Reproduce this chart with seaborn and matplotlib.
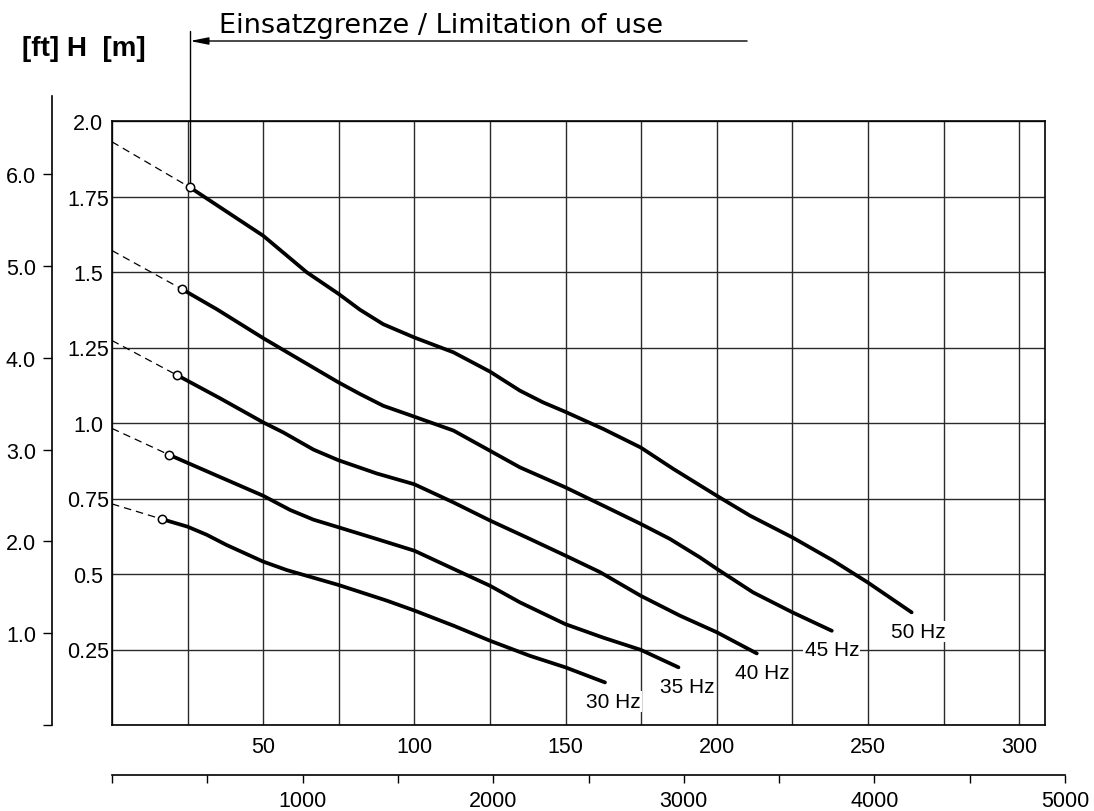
import numpy as np
import pandas as pd
import matplotlib
matplotlib.use('Agg')
import matplotlib.pyplot as plt
import seaborn as sns

# Kennlinien H(Q) je Frequenz
# Q in m3/h, H in m
freqs = ['30 Hz', '35 Hz', '40 Hz', '45 Hz', '50 Hz']

q_30 = [16.4, 24.9, 31.3, 37.9, 50, 57.8, 74.8, 90.8, 100, 112.9, 125, 138.2, 149.9, 163]
h_30 = [0.682, 0.657, 0.630, 0.596, 0.541, 0.513, 0.464, 0.412, 0.379, 0.329, 0.279, 0.229, 0.191, 0.141]

q_35 = [18.8, 34.6, 50, 58.9, 66.6, 74.8, 87.5, 100, 112.9, 125, 134.9, 149.9, 162.5, 174.8, 187.3]
h_35 = [0.895, 0.826, 0.759, 0.712, 0.680, 0.655, 0.616, 0.577, 0.517, 0.461, 0.406, 0.334, 0.289, 0.249, 0.191]

q_40 = [21.4, 35.7, 50, 56.6, 66.6, 74.8, 87.5, 100, 112.9, 125, 138.2, 149.9, 161.4, 174.8, 187.8, 200, 213.2]
h_40 = [1.159, 1.082, 1.002, 0.969, 0.912, 0.877, 0.833, 0.797, 0.737, 0.677, 0.616, 0.561, 0.506, 0.428, 0.362, 0.307, 0.237]

q_45 = [23.0, 34.6, 50, 56.1, 74.8, 82, 89.7, 97.4, 112.9, 125, 134.9, 149.9, 162.5, 174.8, 184.5, 194.4, 200, 212, 225, 238]
h_45 = [1.444, 1.377, 1.281, 1.245, 1.135, 1.096, 1.057, 1.030, 0.975, 0.908, 0.853, 0.787, 0.726, 0.666, 0.616, 0.555, 0.517, 0.439, 0.373, 0.312]

q_50 = [25.8, 50, 64.4, 75, 82, 89.7, 100, 112.9, 125, 134.9, 142.6, 149.9, 162.5, 174.8, 185.6, 200, 211, 225, 238.5, 249.9, 264.4]
h_50 = [1.78, 1.62, 1.499, 1.427, 1.375, 1.327, 1.283, 1.234, 1.170, 1.107, 1.068, 1.037, 0.980, 0.919, 0.848, 0.759, 0.693, 0.621, 0.544, 0.472, 0.373]

# gestrichelte Verlängerung bis Q = 0
h_at_zero = [0.732, 0.982, 1.273, 1.571, 1.931]

curves_q = [q_30, q_35, q_40, q_45, q_50]
curves_h = [h_30, h_35, h_40, h_45, h_50]

# Achsen
q_ticks = list(range(0, 301, 25))
q_labels = ['' if (t == 0 or t % 50) else str(t) for t in q_ticks]
h_ticks = [0, 0.25, 0.5, 0.75, 1.0, 1.25, 1.5, 1.75, 2.0]
h_labels = ['', '0.25', '0.5', '0.75', '1.0', '1.25', '1.5', '1.75', '2.0']
ft_ticks = [0, 1, 2, 3, 4, 5, 6]
ft_labels = ['', '1.0', '2.0', '3.0', '4.0', '5.0', '6.0']
flow2_ticks = list(range(0, 5001, 500))
flow2_labels = [str(t) if (t % 1000 == 0 and t > 0) else '' for t in flow2_ticks]

limit_q = 25.8  # Einsatzgrenze

sns.set_style('white')
plt.rcParams['font.family'] = ['Liberation Sans', 'DejaVu Sans']
plt.rcParams['text.color'] = 'black'

W, H = 1094, 812
fig = plt.figure(figsize=(W / 100, H / 100), dpi=100)

# Hauptdiagramm
ax = fig.add_axes([112 / W, (H - 726) / H, (1045 - 112) / W, (726 - 122) / H])
rows = []
for f, q, h in zip(freqs, curves_q, curves_h):
    for qi, hi in zip(q, h):
        rows.append({'freq': f, 'Q': qi, 'H': hi})
df = pd.DataFrame(rows)

sns.lineplot(data=df, x='Q', y='H', hue='freq', palette=['black'] * len(freqs),
             estimator=None, sort=False, linewidth=2.7, legend=False, ax=ax,
             solid_capstyle='round', solid_joinstyle='round')

ax.set_xlim(0, 308.5)
ax.set_ylim(0, 2.0)
ax.set_xlabel('')
ax.set_ylabel('')
ax.set_xticks(q_ticks)
ax.set_xticklabels(q_labels)
ax.set_yticks(h_ticks)
ax.set_yticklabels(h_labels)
ax.grid(True, color='#2a2a2a', linewidth=1.0)
ax.set_axisbelow(True)
for s in ax.spines.values():
    s.set_color('black')
    s.set_linewidth(1.2)
ax.tick_params(axis='both', length=0, labelsize=15.5, colors='black')
ax.tick_params(axis='x', pad=8)
ax.tick_params(axis='y', pad=17)
for lbl in ax.get_yticklabels():
    lbl.set_ha('center')

x_off = [6, 6, 4, 0, 5]
for f, q, h, h0, dx in zip(freqs, curves_q, curves_h, h_at_zero, x_off):
    ax.plot([0, q[0]], [h0, h[0]], color='black', linewidth=0.9,
            linestyle=(0, (6, 4)), zorder=3)
    ax.plot(q[0], h[0], marker='o', markersize=6, markerfacecolor='white',
            markeredgecolor='black', markeredgewidth=1.1, zorder=4)
    ax.annotate(f, xy=(q[-1], h[-1]), xytext=(dx, -13.5), textcoords='offset points',
                ha='center', va='center', fontsize=15, color='black',
                bbox=dict(boxstyle='square,pad=0.05', facecolor='white', edgecolor='none'),
                zorder=5)

# Einsatzgrenze
y_top = (726 - 32) / 302
y_arrow = (726 - 42) / 302
ax.plot([limit_q, limit_q], [h_50[0], y_top], color='black', linewidth=1.0, clip_on=False)
ax.annotate('', xy=(limit_q, y_arrow), xytext=((747 - 112) / 3.024, y_arrow),
            annotation_clip=False,
            arrowprops=dict(arrowstyle='-|>,head_length=1.1,head_width=0.22',
                            color='black', linewidth=1.0, shrinkA=0, shrinkB=0))
fig.text(219 / W, 1 - 33 / H, 'Einsatzgrenze / Limitation of use', fontsize=19.5,
         family=['DejaVu Sans'], va='baseline', ha='left', color='black')

fig.text(22 / W, 1 - 49 / H, '[ft] H  [m]', fontsize=20, fontweight='bold',
         family=['Liberation Sans', 'DejaVu Sans'], va='center', ha='left', color='black')

# Fuss-Achse links
ax_ft = fig.add_axes([52 / W, (H - 726) / H, 0.0005, (726 - 97) / H])
ax_ft.set_ylim(0, 629 / 91.8)
ax_ft.set_yticks(ft_ticks)
ax_ft.set_yticklabels(ft_labels)
ax_ft.set_xticks([])
for k in ['top', 'right', 'bottom']:
    ax_ft.spines[k].set_visible(False)
ax_ft.spines['left'].set_linewidth(1.2)
ax_ft.spines['left'].set_color('black')
ax_ft.patch.set_alpha(0)
ax_ft.tick_params(axis='y', direction='out', length=6.5, width=1.0, pad=5,
                  labelsize=15.5, colors='black', left=True)

# zweite Förderstrom-Achse unten
ax_q2 = fig.add_axes([112 / W, (H - 776) / H, (1065 - 112) / W, 0.0005])
ax_q2.set_xlim(0, 5000)
ax_q2.set_xticks(flow2_ticks)
ax_q2.set_xticklabels(flow2_labels)
ax_q2.set_yticks([])
for k in ['top', 'right', 'left']:
    ax_q2.spines[k].set_visible(False)
ax_q2.spines['bottom'].set_linewidth(1.2)
ax_q2.spines['bottom'].set_color('black')
ax_q2.patch.set_alpha(0)
ax_q2.tick_params(axis='x', direction='out', length=5.5, width=1.0, pad=5,
                  labelsize=15.5, colors='black', bottom=True)

fig.savefig('out.png', dpi=100)
